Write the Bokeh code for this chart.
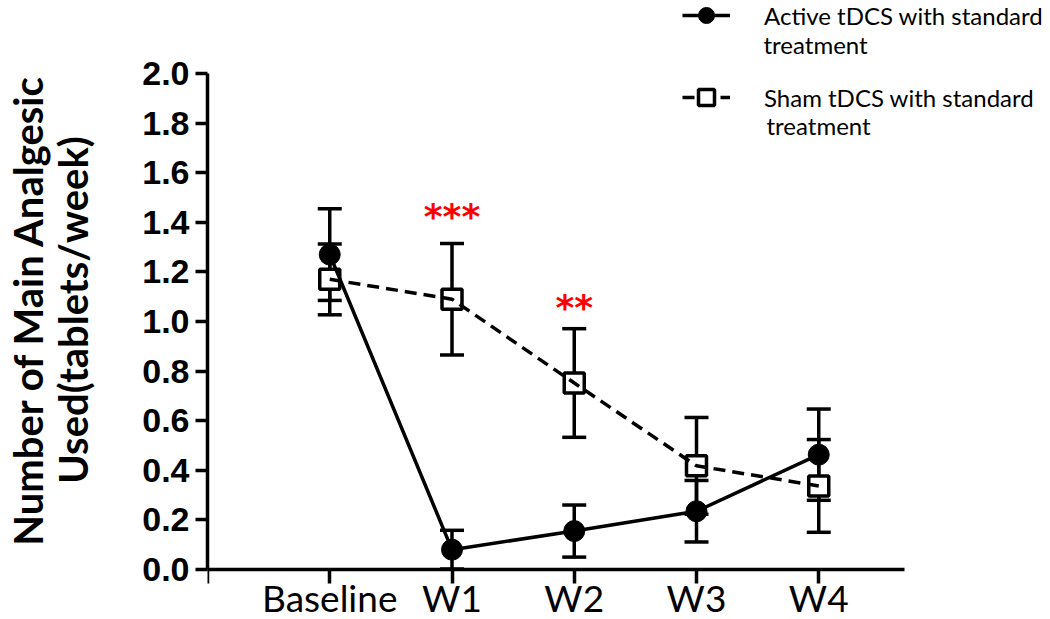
from bokeh.plotting import figure
from bokeh.models import (ColumnDataSource, Whisker, TeeHead, FixedTicker,
                          NumeralTickFormatter, Legend, LegendItem, Range1d, Label)
from bokeh.core.properties import value
from bokeh.embed import file_html
from bokeh.resources import INLINE

# ---- data ----
categories = ["Baseline", "W1", "W2", "W3", "W4"]
active_mean = [1.27, 0.08, 0.155, 0.235, 0.463]
active_sem = [0.185, 0.078, 0.105, 0.124, 0.184]
sham_mean = [1.17, 1.09, 0.752, 0.418, 0.337]
sham_sem = [0.143, 0.225, 0.219, 0.195, 0.187]
yticks = [0.0, 0.2, 0.4, 0.6, 0.8, 1.0, 1.2, 1.4, 1.6, 1.8, 2.0]
sig_cats = ["W1", "W2"]
sig_text = ["***", "**"]
sig_y = [1.425, 1.058]
active_label = ["Active tDCS with standard", "treatment"]
sham_label = ["Sham tDCS with standard", "treatment"]

xs = list(range(len(categories)))
act = ColumnDataSource(dict(x=xs, y=active_mean,
                            lo=[m - s for m, s in zip(active_mean, active_sem)],
                            hi=[m + s for m, s in zip(active_mean, active_sem)]))
sham = ColumnDataSource(dict(x=xs, y=sham_mean,
                             lo=[m - s for m, s in zip(sham_mean, sham_sem)],
                             hi=[m + s for m, s in zip(sham_mean, sham_sem)]))

W, H = 1042, 619
LEFT = 193
PX = 248.0     # pixels per y unit
p = figure(width=W, height=H, output_backend="svg", toolbar_location=None,
           x_range=Range1d(-1, -1 + (W - LEFT) / 124.3),
           y_range=Range1d(-(H - 569) / PX, 2 + 73 / PX),
           min_border=0, min_border_left=LEFT, min_border_right=0,
           min_border_top=0, min_border_bottom=0)
p.outline_line_color = None
p.xgrid.visible = False
p.ygrid.visible = False
p.background_fill_color = "white"

LW = 3.5
for src in (act, sham):
    w = Whisker(base="x", upper="hi", lower="lo", source=src,
                line_width=LW, line_color="black",
                upper_head=TeeHead(size=24, line_width=LW, line_color="black"),
                lower_head=TeeHead(size=24, line_width=LW, line_color="black"))
    p.add_layout(w)

sq = p.scatter("x", "y", source=sham, marker="square", size=20,
               fill_color="white", line_color="black", line_width=LW)
sl = p.line("x", "y", source=sham, line_color="black", line_width=LW,
            line_dash="12 7")
al = p.line("x", "y", source=act, line_color="black", line_width=LW)
ac = p.scatter("x", "y", source=act, marker="circle", size=21,
               fill_color="black", line_color="black")

p.text(x=[categories.index(c) for c in sig_cats], y=sig_y, text=sig_text,
       text_color="red", text_font_size="36px", text_align="center",
       text_baseline="middle", text_font=value("DejaVu Sans"),
       text_font_style="bold")

xa = p.xaxis[0]
xa.fixed_location = 0
xa.bounds = (-1, 4.7)
xa.ticker = FixedTicker(ticks=[-1] + xs)
xa.major_label_overrides = {i: c for i, c in enumerate(categories)} | {-1: ""}
xa.axis_line_width = LW
xa.major_tick_line_width = LW
xa.major_tick_out = 14
xa.major_tick_in = 0
xa.minor_tick_line_color = None
xa.major_label_text_font = "Lato"
xa.major_label_text_font_size = "37px"
xa.major_label_text_color = "black"
xa.major_label_standoff = -9

ya = p.yaxis[0]
ya.bounds = (0, 2)
ya.ticker = FixedTicker(ticks=yticks)
ya.formatter = NumeralTickFormatter(format="0.0")
ya.axis_line_width = LW
ya.major_tick_line_width = LW
ya.major_tick_out = 12
ya.major_tick_in = 0
ya.minor_tick_line_color = None
ya.major_label_text_font = "Liberation Sans"
ya.major_label_text_font_style = "bold"
ya.major_label_text_font_size = "34px"
ya.major_label_text_color = "black"
ya.major_label_standoff = 6
ya.axis_label = "Number of Main Analgesic\nUsed(tablets/week)"
ya.axis_label_text_font = "Lato"
ya.axis_label_text_font_style = "bold"
ya.axis_label_text_font_size = "40px"
ya.axis_label_text_line_height = 0.95
ya.axis_label_text_color = "black"
ya.axis_label_standoff = 42

legend = Legend(items=[LegendItem(label=active_label[0], renderers=[al, ac]),
                       LegendItem(label=sham_label[0], renderers=[sl, sq])],
                location=(475, H - 117))
legend.glyph_width = 48
legend.glyph_height = 40
legend.label_height = 40
legend.label_standoff = 34
legend.label_text_font = "Lato"
legend.label_text_font_size = "24px"
legend.label_text_color = "black"
legend.border_line_color = None
legend.background_fill_alpha = 0
legend.padding = 0
legend.margin = 0
legend.spacing = 42
p.add_layout(legend)

for txt, xp, yp in ((active_label[1], 556, 44), (sham_label[1], 559, 125)):
    p.add_layout(Label(x=xp, y=H - yp, x_units="screen", y_units="screen",
                       text=txt, text_font="Lato", text_font_size="24px",
                       text_color="black", text_baseline="middle"))

open("out.html", "w").write(file_html(p, INLINE))
